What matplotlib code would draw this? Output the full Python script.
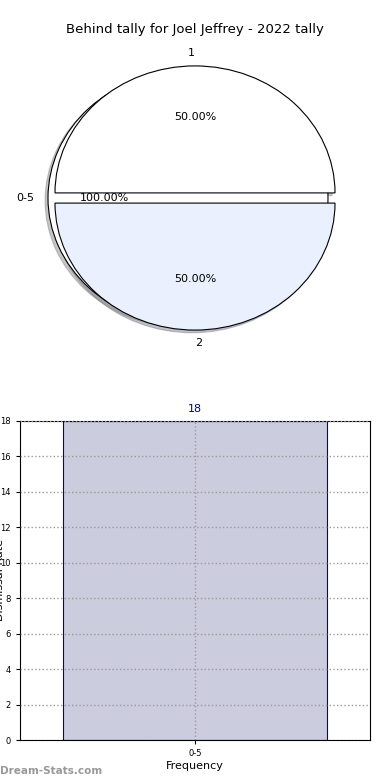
import matplotlib
matplotlib.use("Agg")
import matplotlib.pyplot as plt

# Pie data
outer_labels = ["0-5"]
outer_values = [18]
inner_labels = ["1", "2"]
inner_values = [9, 9]

# Bar data
bar_categories = ["0-5"]
bar_values = [18]

TITLE = "Behind tally for Joel Jeffrey - 2022 tally"

fig = plt.figure(figsize=(3.9, 7.8), dpi=100)

# ---- pie (top) ----
shadow = dict(ox=-0.015, oy=-0.015, shade=0.45)
ax_pie = fig.add_axes([0.0, 1 - 400 / 780, 1.0, 400 / 780])
ax_pie.pie(outer_values, labels=outer_labels, autopct="%1.2f%%",
           explode=[0.05], colors=["white"], shadow=shadow,
           startangle=0, labeldistance=1.1, pctdistance=0.6,
           wedgeprops=dict(edgecolor="black", linewidth=0.8),
           textprops=dict(fontsize=8))
ax_pie.pie(inner_values, labels=inner_labels, autopct="%1.2f%%",
           explode=[0.04, 0.04], colors=["white", "#eaf0fd"], shadow=shadow,
           startangle=0, labeldistance=1.1, pctdistance=0.6,
           wedgeprops=dict(edgecolor="black", linewidth=0.8),
           textprops=dict(fontsize=8))
ax_pie.set_aspect("auto")
ax_pie.set_xlim(-195 / 140, 195 / 140)
ax_pie.set_ylim(-202 / 127, 198 / 127)
fig.text(0.5, 1 - 30 / 780, TITLE, ha="center", va="center", fontsize=9.5)

# ---- bar (bottom) ----
ax_bar = fig.add_axes([20 / 390, 40 / 780, 350 / 390, 319 / 780])
x = range(len(bar_categories))
ax_bar.bar(x, bar_values, width=0.8, color="#ccccdf", edgecolor="#0000aa",
           linewidth=0.8, zorder=1)
for xi, v in zip(x, bar_values):
    ax_bar.text(xi, v + 0.4, str(v), ha="center", va="bottom",
                fontsize=8, color="#000080")
ax_bar.set_xlim(-0.53, 0.53)
ax_bar.set_ylim(0, 18)
ax_bar.set_yticks(range(0, 19, 2))
ax_bar.set_xticks(list(x))
ax_bar.set_xticklabels(bar_categories)
ax_bar.tick_params(labelsize=6, length=3)
ax_bar.set_axisbelow(False)
ax_bar.grid(True, linestyle=":", color="#999999", linewidth=1)
ax_bar.set_xlabel("Frequency", fontsize=8, labelpad=2)
# y label sits partly off the left edge, as in the original
fig.text(-0.014, 1 - 580 / 780, "Dismissal Rate", rotation=90,
         ha="left", va="center", fontsize=8)

fig.text(0.0, 1 - 771 / 780, "Dream-Stats.com", ha="left", va="center",
         fontsize=7.5, color="#999999", fontweight="bold")

fig.savefig("out.png", dpi=100)
